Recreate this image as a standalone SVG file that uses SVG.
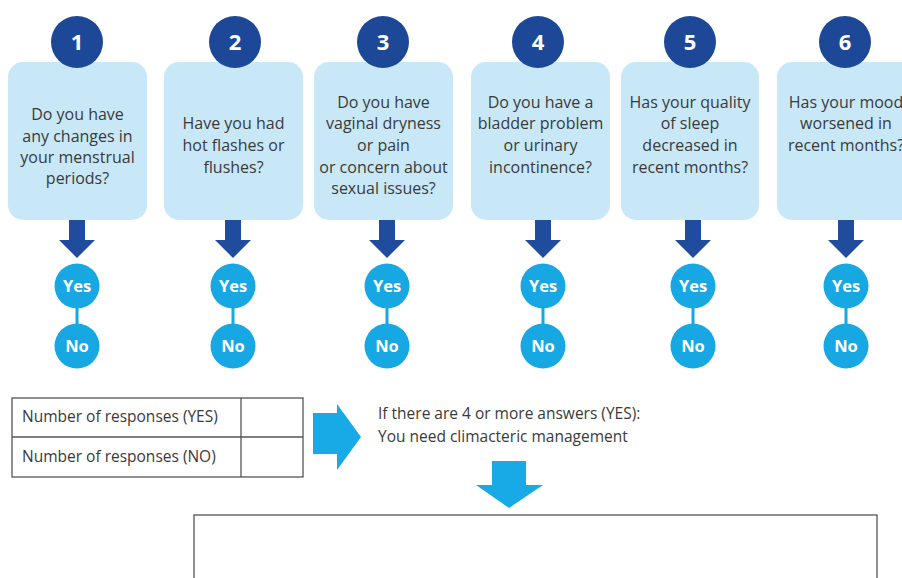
<svg xmlns="http://www.w3.org/2000/svg" width="902" height="578" viewBox="0 0 902 578">
<defs>
<style>
.box{fill:#c8e8f8}
.num{fill:#1c4897}
.numt{fill:#fff;font-family:"Open Sans","Noto Sans",sans-serif;font-weight:bold;font-size:22px;text-anchor:middle}
.q{fill:#3a3a3a;font-family:"Open Sans","Noto Sans",sans-serif;font-size:16px;text-anchor:middle}
.yn{fill:#17a8e3}
.ynt{fill:#fff;font-family:"Open Sans","Noto Sans",sans-serif;font-weight:bold;font-size:16.5px;text-anchor:middle}
.link{stroke:#17a8e3;stroke-width:3}
.darr{fill:#1f4c9c}
.carr{fill:#17aae6}
.tbl{fill:none;stroke:#555;stroke-width:1.3}
.t{fill:#3a3a3a;font-family:"Open Sans","Noto Sans",sans-serif;font-size:15.5px}
</style>
</defs>
<rect width="902" height="578" fill="#fff"/>

<g id="q1">
<rect class="box" x="8" y="62" width="139" height="158" rx="15"/>
<circle class="num" cx="77" cy="42" r="26"/>
<text class="numt" x="77" y="50">1</text>
<text class="q" x="77.5" y="120">Do you have</text>
<text class="q" x="77.5" y="142">any changes in</text>
<text class="q" x="77.5" y="163">your menstrual</text>
<text class="q" x="77.5" y="184">periods?</text>
</g>
<g id="q2">
<rect class="box" x="164" y="62" width="139" height="158" rx="15"/>
<circle class="num" cx="235" cy="42" r="26"/>
<text class="numt" x="235" y="50">2</text>
<text class="q" x="233.5" y="129">Have you had</text>
<text class="q" x="233.5" y="151">hot flashes or</text>
<text class="q" x="233.5" y="173">flushes?</text>
</g>
<g id="q3">
<rect class="box" x="314" y="62" width="139" height="158" rx="15"/>
<circle class="num" cx="383" cy="42" r="26"/>
<text class="numt" x="383" y="50">3</text>
<text class="q" x="383.5" y="108">Do you have</text>
<text class="q" x="383.5" y="129">vaginal dryness</text>
<text class="q" x="383.5" y="151">or pain</text>
<text class="q" x="383.5" y="173">or concern about</text>
<text class="q" x="383.5" y="194">sexual issues?</text>
</g>
<g id="q4">
<rect class="box" x="471" y="62" width="139" height="158" rx="15"/>
<circle class="num" cx="538" cy="42" r="26"/>
<text class="numt" x="538" y="50">4</text>
<text class="q" x="540.5" y="108">Do you have a</text>
<text class="q" x="540.5" y="129">bladder problem</text>
<text class="q" x="540.5" y="151">or urinary</text>
<text class="q" x="540.5" y="173">incontinence?</text>
</g>
<g id="q5">
<rect class="box" x="621" y="62" width="138" height="158" rx="15"/>
<circle class="num" cx="690" cy="42" r="26"/>
<text class="numt" x="690" y="50">5</text>
<text class="q" x="690" y="108">Has your quality</text>
<text class="q" x="690" y="129">of sleep</text>
<text class="q" x="690" y="151">decreased in</text>
<text class="q" x="690" y="173">recent months?</text>
</g>
<g id="q6">
<rect class="box" x="777" y="62" width="139" height="158" rx="15"/>
<circle class="num" cx="845" cy="42" r="26"/>
<text class="numt" x="845" y="50">6</text>
<text class="q" x="846" y="108">Has your mood</text>
<text class="q" x="846" y="129">worsened in</text>
<text class="q" x="846" y="151">recent months?</text>
</g>

<g id="connectors">
<path class="darr" d="M69 220h16v20h10l-18 18l-18-18h10z"/>
<path class="darr" d="M225 220h16v20h10l-18 18l-18-18h10z"/>
<path class="darr" d="M379 220h16v20h10l-18 18l-18-18h10z"/>
<path class="darr" d="M535 220h16v20h10l-18 18l-18-18h10z"/>
<path class="darr" d="M685 220h16v20h10l-18 18l-18-18h10z"/>
<path class="darr" d="M838 220h16v20h10l-18 18l-18-18h10z"/>
<line class="link" x1="77" y1="300" x2="77" y2="330"/>
<line class="link" x1="233" y1="300" x2="233" y2="330"/>
<line class="link" x1="387" y1="300" x2="387" y2="330"/>
<line class="link" x1="543" y1="300" x2="543" y2="330"/>
<line class="link" x1="693" y1="300" x2="693" y2="330"/>
<line class="link" x1="846" y1="300" x2="846" y2="330"/>
<path class="carr" d="M313 413h24v-9l24 33l-24 33v-16h-24z"/>
<path class="carr" d="M492 461h34v24h17l-34 23l-33-23h16z"/>
</g>

<g id="yn1"><circle class="yn" cx="77" cy="286" r="22.5"/><text class="ynt" x="77" y="292">Yes</text><circle class="yn" cx="77" cy="346" r="22.5"/><text class="ynt" x="77" y="352">No</text></g>
<g id="yn2"><circle class="yn" cx="233" cy="286" r="22.5"/><text class="ynt" x="233" y="292">Yes</text><circle class="yn" cx="233" cy="346" r="22.5"/><text class="ynt" x="233" y="352">No</text></g>
<g id="yn3"><circle class="yn" cx="387" cy="286" r="22.5"/><text class="ynt" x="387" y="292">Yes</text><circle class="yn" cx="387" cy="346" r="22.5"/><text class="ynt" x="387" y="352">No</text></g>
<g id="yn4"><circle class="yn" cx="543" cy="286" r="22.5"/><text class="ynt" x="543" y="292">Yes</text><circle class="yn" cx="543" cy="346" r="22.5"/><text class="ynt" x="543" y="352">No</text></g>
<g id="yn5"><circle class="yn" cx="693" cy="286" r="22.5"/><text class="ynt" x="693" y="292">Yes</text><circle class="yn" cx="693" cy="346" r="22.5"/><text class="ynt" x="693" y="352">No</text></g>
<g id="yn6"><circle class="yn" cx="846" cy="286" r="22.5"/><text class="ynt" x="846" y="292">Yes</text><circle class="yn" cx="846" cy="346" r="22.5"/><text class="ynt" x="846" y="352">No</text></g>

<g id="table">
<rect class="tbl" x="12" y="398" width="291" height="79"/>
<line class="tbl" x1="12" y1="437" x2="303" y2="437"/>
<line class="tbl" x1="241" y1="398" x2="241" y2="477"/>
<text class="t" x="22" y="422">Number of responses (YES)</text>
<text class="t" x="22" y="462">Number of responses (NO)</text>
</g>

<g id="result">
<text class="t" x="378" y="419">If there are 4 or more answers (YES):</text>
<text class="t" x="378" y="442">You need climacteric management</text>
</g>

<g id="bottombox">
<rect class="tbl" x="194" y="515" width="683" height="80"/>
</g>
</svg>
